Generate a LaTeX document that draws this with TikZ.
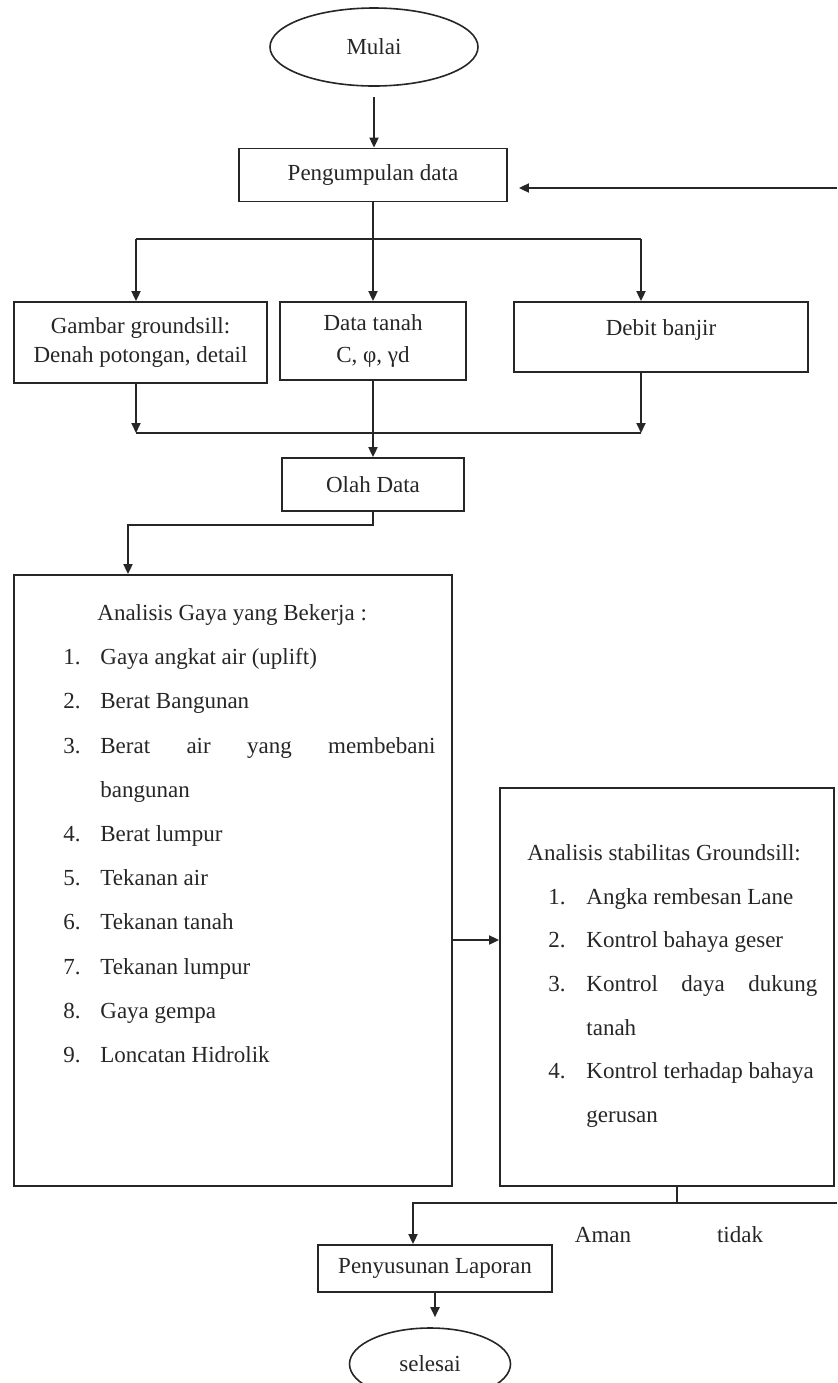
\documentclass[tikz,border=0pt]{standalone}
\usepackage{fontspec}
\setmainfont{Liberation Serif}
\usetikzlibrary{arrows.meta,shapes.geometric}
\begin{document}
\begin{tikzpicture}[x=0.5pt,y=-0.5pt,
  font=\fontsize{11.5}{14}\selectfont,
  line/.style={draw=black!85, line width=0.9pt},
  arr/.style={line, -{Triangle[length=5pt,width=4.5pt]}},
  box/.style={draw=black!85, line width=0.9pt, rectangle, inner sep=0pt, text=black!85},
  term/.style={draw=black!85, line width=0.8pt, ellipse, text=black!85},
  txt/.style={inner sep=0pt, anchor=base west, text=black!85},
  lbl/.style={inner sep=0pt, text=black!85}]
\useasboundingbox (0,0) rectangle (837,1383);

% nodes
\node[term, minimum width=104pt, minimum height=39pt] (mulai) at (374,47) {Mulai};
\node[box, minimum width=134pt, minimum height=26.5pt] (peng) at (373,175) {Pengumpulan data};
\node[box, minimum width=126.5pt, minimum height=40.5pt, align=center] (gambar) at (140.5,342.5) {Gambar groundsill:\\[0.5pt]Denah potongan, detail};
\node[box, minimum width=93pt, minimum height=39pt, align=center] (tanah) at (373,341) {Data tanah\\[2pt]C, φ, γd};
\node[box, minimum width=147pt, minimum height=35pt] (debit) at (661,337) {};
\node[lbl] (debitT) at (661,330) {Debit banjir};
\node[box, minimum width=91pt, minimum height=26.5pt] (olah) at (373,484.5) {Olah Data};
\node[box, minimum width=219pt, minimum height=305.5pt] (gaya) at (233,880.5) {};
\node[box, minimum width=167pt, minimum height=199pt] (stab) at (667,987) {};
\node[box, minimum width=117pt, minimum height=23.5pt] (lap) at (435,1268.5) {Penyusunan Laporan};
\node[term, minimum width=80.5pt, minimum height=36pt] (selesai) at (430,1364) {selesai};

% left list
\node[txt] (gh) at (97,620) {Analisis Gaya yang Bekerja :};
\node[txt] (gn1) at (63,664) {1.};  \node[txt] (gt1) at (100,664) {Gaya angkat air (uplift)};
\node[txt] (gn2) at (63,708) {2.};  \node[txt] (gt2) at (100,708) {Berat Bangunan};
\node[txt] (gn3) at (63,753) {3.};  \node[txt] (gt3) at (100,753) {\hbox to 167.5pt{Berat\hfill air\hfill yang\hfill membebani}};
\node[txt] (gt3b) at (100,797) {bangunan};
\node[txt] (gn4) at (63,841) {4.};  \node[txt] (gt4) at (100,841) {Berat lumpur};
\node[txt] (gn5) at (63,885) {5.};  \node[txt] (gt5) at (100,885) {Tekanan air};
\node[txt] (gn6) at (63,929) {6.};  \node[txt] (gt6) at (100,929) {Tekanan tanah};
\node[txt] (gn7) at (63,974) {7.};  \node[txt] (gt7) at (100,974) {Tekanan lumpur};
\node[txt] (gn8) at (63,1018) {8.}; \node[txt] (gt8) at (100,1018) {Gaya gempa};
\node[txt] (gn9) at (63,1062) {9.}; \node[txt] (gt9) at (100,1062) {Loncatan Hidrolik};

% right list
\node[txt] (sh) at (527,860) {Analisis stabilitas Groundsill:};
\node[txt] (sn1) at (548,904) {1.};  \node[txt] (st1) at (586,904) {Angka rembesan Lane};
\node[txt] (sn2) at (548,947) {2.};  \node[txt] (st2) at (586,947) {Kontrol bahaya geser};
\node[txt] (sn3) at (548,991) {3.};  \node[txt] (st3) at (586,991) {\hbox to 115.5pt{Kontrol\hfill daya\hfill dukung}};
\node[txt] (st3b) at (586,1035) {tanah};
\node[txt] (sn4) at (548,1078) {4.}; \node[txt] (st4) at (586,1078) {Kontrol terhadap bahaya};
\node[txt] (st4b) at (586,1122) {gerusan};

% decision labels
\node[lbl] (aman) at (603,1235) {Aman};
\node[lbl] (tidak) at (740,1235) {tidak};

% connectors
\draw[arr, shorten <=5pt] (mulai.south) -- (mulai.south |- peng.north);
\coordinate (fb) at (837,188);
\draw[arr, shorten >=5.5pt] (fb) -- (peng.east |- fb);

\coordinate (s1) at (136,239);
\coordinate (s2) at (373,239);
\coordinate (s3) at (641,239);
\draw[line] (peng.south) -- (s2);
\draw[line] (s1) -- (s3);
\draw[arr] (s1) -- (s1 |- gambar.north);
\draw[arr] (s2) -- (tanah.north);
\draw[arr] (s3) -- (s3 |- debit.north);

\coordinate (j1) at (136,433);
\coordinate (j3) at (641,433);
\draw[arr] (j1 |- gambar.south) -- (j1);
\draw[arr] (j3 |- debit.south) -- (j3);
\draw[line] (j1) -- (j3);
\draw[arr] (tanah.south) -- (olah.north);

\coordinate (b1) at (128,525);
\draw[arr] (olah.south) |- (b1) -- (b1 |- gaya.north);

\coordinate (q) at (0,940);
\draw[arr] (gaya.east |- q) -- (stab.west |- q);

\coordinate (k) at (677,1203);
\coordinate (l1) at (413,1203);
\coordinate (rt) at (837,1203);
\draw[line] (k |- stab.south) -- (k);
\draw[line] (k) -- (rt);
\draw[arr] (k) -- (l1) -- (l1 |- lap.north);
\draw[arr, shorten >=5pt] (lap.south) -- (lap.south |- selesai.north);
\end{tikzpicture}
\end{document}
